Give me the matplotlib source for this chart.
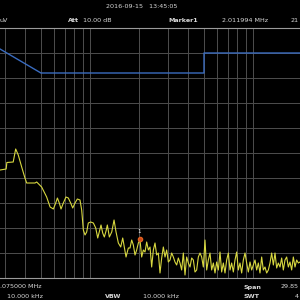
import numpy as np
import matplotlib
matplotlib.use('Agg')
import matplotlib.pyplot as plt

# spectrum trace, low-frequency part (MHz, dBuV)
low_freq = [0.281, 0.306, 0.309, 0.338, 0.350, 0.363, 0.381, 0.399, 0.409, 0.460,
            0.471, 0.505, 0.542, 0.569, 0.596, 0.616, 0.631, 0.648, 0.664, 0.686,
            0.712, 0.736, 0.761, 0.783, 0.809, 0.836, 0.868, 0.889, 0.910, 0.932,
            0.954, 0.976, 1.010, 1.048, 1.084, 1.115, 1.140, 1.168, 1.196, 1.224,
            1.254, 1.277, 1.314, 1.359, 1.404, 1.444, 1.492, 1.543, 1.587, 1.633,
            1.663, 1.718]
low_level = [36.6, 36.8, 38.1, 38.2, 40.8, 39.6, 37.2, 35.0, 34.0, 34.0,
             34.2, 33.2, 31.2, 29.2, 28.8, 30.0, 31.0, 30.0, 28.8, 30.0,
             31.2, 31.0, 30.0, 29.0, 30.0, 30.8, 30.6, 28.6, 24.6, 23.6,
             24.2, 26.0, 26.2, 26.0, 25.0, 23.0, 24.2, 25.6, 24.0, 23.2,
             24.4, 25.6, 23.2, 24.2, 26.6, 24.2, 22.0, 21.2, 23.0, 20.6,
             19.2, 21.0]

# noise floor part, sweep points from 1.76 MHz up past the right edge
noise_level = [21.0, 22.6, 21.6, 19.6, 20.6, 22.0, 22.6, 19.2, 20.6, 20.2,
               22.2, 20.6, 21.2, 17.2, 20.6, 22.0, 19.6, 20.0, 16.0, 19.0,
               21.2, 19.2, 20.6, 18.2, 18.6, 20.0, 19.2, 18.2, 17.6, 19.0,
               18.0, 16.6, 20.0, 15.6, 19.2, 18.0, 17.2, 19.0, 18.6, 16.2,
               16.6, 19.2, 20.0,
               19.2, 17.2, 22.6, 16.6, 18.6, 20.0, 16.6, 18.0, 16.0, 18.2,
               16.6, 20.2, 16.2, 18.0, 16.0, 18.6, 20.0, 16.6, 18.0, 16.2,
               18.6, 20.2, 16.6, 18.0, 16.0, 18.6, 20.0, 18.0, 16.2, 18.2,
               16.6, 17.6, 18.6, 16.6, 18.0, 16.0, 19.2, 16.6, 17.2, 16.0,
               16.6, 18.0, 20.0, 17.6, 20.0, 17.0, 18.0, 17.2, 19.0, 16.6,
               18.6, 19.2, 17.2, 18.2, 16.6, 19.2, 17.2, 18.6, 18.0, 18.2]
noise_freq = np.geomspace(1.759, 19.4, len(noise_level))

# limit line (CISPR-like)
limit_freq = [0.15, 0.5, 5.0, 5.0, 30.0]
limit_level = [66.0, 56.0, 56.0, 60.0, 60.0]

marker_freq = 2.011994
marker_level = 22.8

grid_freq = [0.3, 0.4, 0.5, 0.6, 0.7, 0.8, 0.9, 1, 2, 3, 4, 5, 6, 7, 8, 9, 10]
grid_level = [20, 25, 30, 35, 40, 45, 50, 55, 60]

freq = np.concatenate([low_freq, noise_freq])
level = np.concatenate([low_level, noise_level])

fig = plt.figure(figsize=(3, 3), dpi=100, facecolor='black')
ax = fig.add_axes([0, 22 / 300, 1, 250 / 300], facecolor='black')
ax.set_xscale('log')
ax.set_xlim(0.2805, 19.4)
ax.set_ylim(15, 65)

ax.vlines(grid_freq, 15, 65, color='#4e4e4e', lw=0.7)
ax.hlines(grid_level, 0.1, 40, color='#4e4e4e', lw=0.7)

ax.plot(limit_freq, limit_level, color='#3a6cc0', lw=1.0)
ax.plot(freq, level, color='#d8d840', lw=0.8)
ax.plot(marker_freq, marker_level, 'o', color='#c84818', ms=3, mec='#e06020')
ax.text(marker_freq, marker_level + 1.0, '1', color='white', fontsize=4,
        ha='center', va='bottom')

ax.set_xticks([])
ax.set_yticks([])
ax.minorticks_off()
for side in ['left', 'right']:
    ax.spines[side].set_visible(False)
for side in ['top', 'bottom']:
    ax.spines[side].set_color('#9a9a9a')
    ax.spines[side].set_linewidth(0.8)

fs = 4.6
col = '#d8d8d8'


def put(x, y, s, bold=False, ha='left'):
    fig.text(x / 300, 1 - y / 300, s, color=col, fontsize=fs, ha=ha, va='center',
             fontweight='bold' if bold else 'normal')


put(142, 6, '2016-09-15   13:45:05', ha='center')
put(0, 21, 'uV')
put(68, 21, 'Att', bold=True)
put(83, 21, '10.00 dB')
put(168, 21, 'Marker1', bold=True)
put(222, 21, '2.011994 MHz')
put(299, 21, '21', ha='right')

put(0, 287, '.075000 MHz')
put(243, 287, 'Span', bold=True)
put(299, 287, '29.85', ha='right')
put(7, 296, '10.000 kHz')
put(105, 296, 'VBW', bold=True)
put(143, 296, '10.000 kHz')
put(243, 296, 'SWT', bold=True)
put(299, 296, '4', ha='right')

fig.savefig('out.png', dpi=100, facecolor='black')
